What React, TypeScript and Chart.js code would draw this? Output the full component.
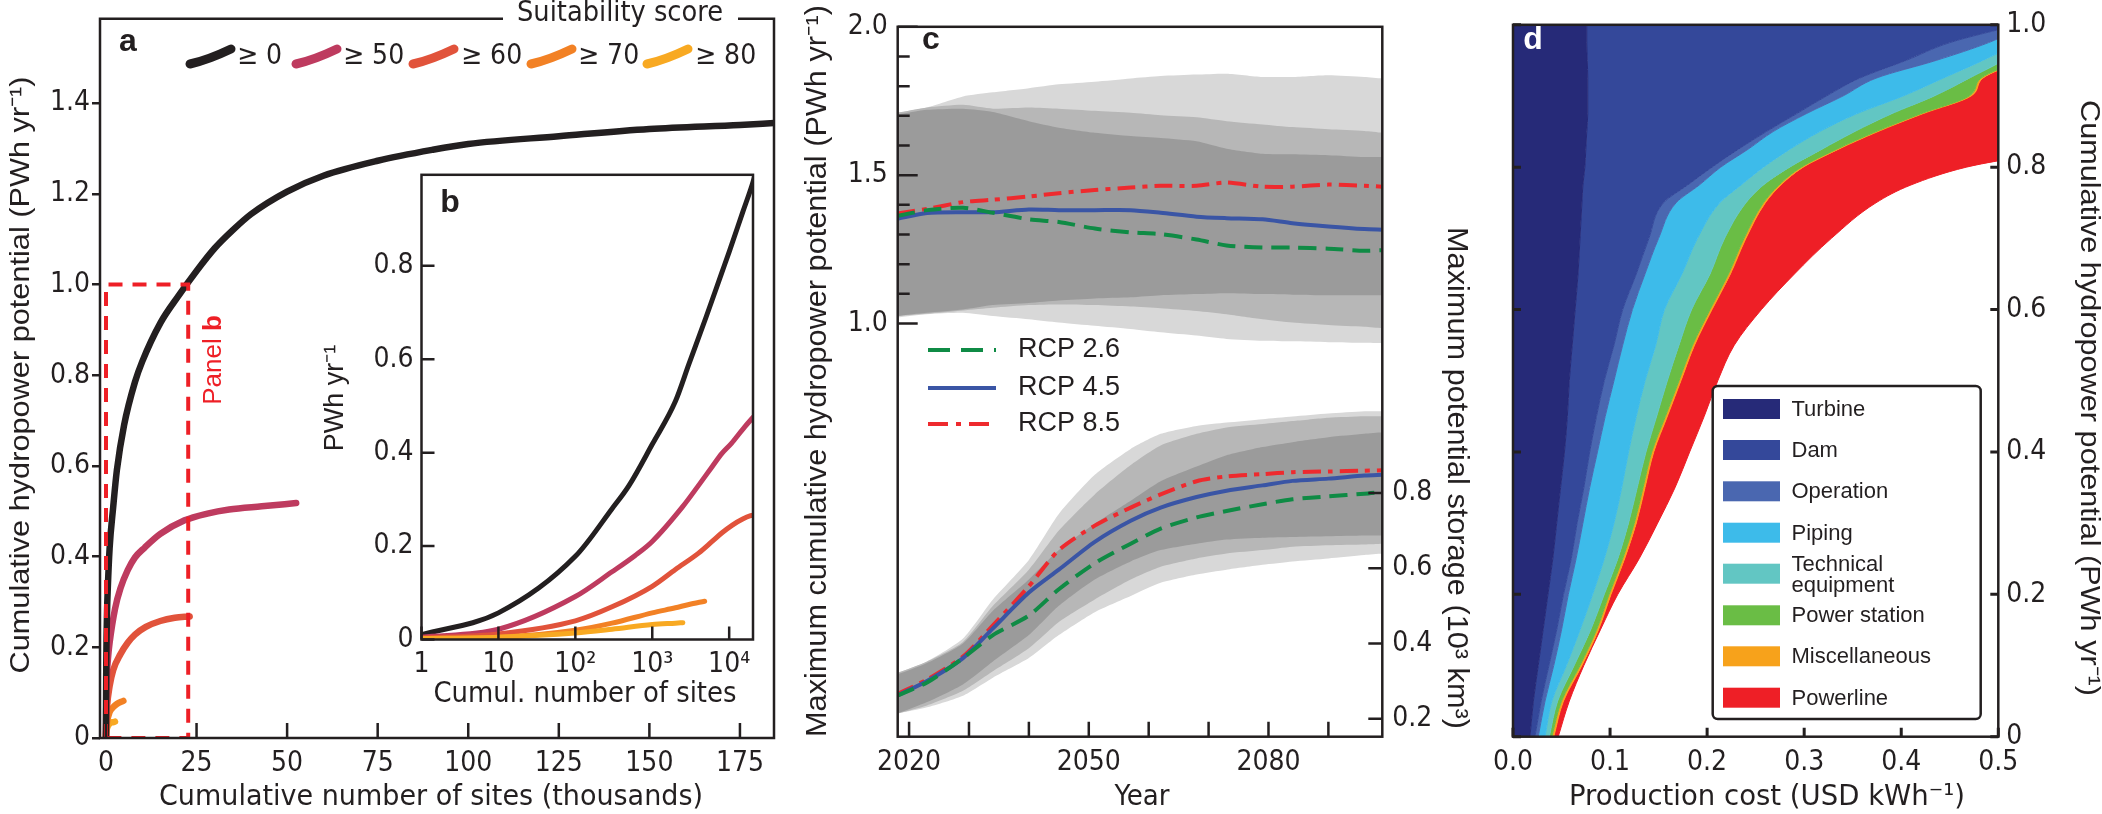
import React, { useEffect, useRef } from 'react';
import { Chart, registerables } from 'chart.js';
Chart.register(...registerables);

const INK = '#231f20';
const COND = "'Liberation Sans Narrow','DejaVu Sans Condensed','Roboto Condensed','Arial Narrow','Liberation Sans',sans-serif";
const REG = "'Liberation Sans',Arial,Helvetica,sans-serif";

// ---------------- Panel a / b data (sites in thousands, potential PWh/yr) ----------------
const scoreLabels = ['≥ 0', '≥ 50', '≥ 60', '≥ 70', '≥ 80'];
const scoreColors = ['#231f20', '#be3b5f', '#e1533b', '#f28125', '#f8a922'];
const sites0 = [0, 0.001, 0.01, 0.1, 0.3, 0.5, 1, 2, 3, 5, 8, 10, 15, 20, 25, 30, 35, 40, 50, 60, 75, 90, 100, 125, 150, 175, 184.4];
const pot0 = [0, 0.01, 0.057, 0.178, 0.28, 0.33, 0.418, 0.51, 0.59, 0.69, 0.785, 0.83, 0.915, 0.975, 1.03, 1.08, 1.12, 1.155, 1.205, 1.24, 1.273, 1.297, 1.31, 1.327, 1.343, 1.352, 1.356];
const sites50 = [0, 0.001, 0.01, 0.1, 0.3, 0.6, 1, 2.5, 4, 6, 8, 10.7, 15, 21.7, 28, 34, 43, 52.5];
const pot50 = [0, 0.005, 0.022, 0.092, 0.145, 0.18, 0.21, 0.285, 0.33, 0.37, 0.398, 0.42, 0.45, 0.48, 0.495, 0.504, 0.511, 0.518];
const sites60 = [0, 0.001, 0.01, 0.1, 0.3, 1, 2, 4, 6, 8, 11, 15, 19, 23.1];
const pot60 = [0, 0.003, 0.012, 0.04, 0.07, 0.114, 0.15, 0.185, 0.21, 0.228, 0.245, 0.258, 0.265, 0.268];
const sites70 = [0, 0.001, 0.01, 0.1, 0.3, 1, 2, 3, 4.8];
const pot70 = [0, 0.002, 0.005, 0.02, 0.035, 0.057, 0.068, 0.075, 0.082];
const sites80 = [0, 0.001, 0.01, 0.1, 0.3, 1, 2, 2.5];
const pot80 = [0, 0.002, 0.005, 0.014, 0.022, 0.032, 0.035, 0.036];
const panelBoxSites = [0, 0, 22.7, 22.7, 0];
const panelBoxPot = [0, 1, 1, 0, 0];
const aXTicks = [0, 25, 50, 75, 100, 125, 150, 175];
const aYTicks = [0, 0.2, 0.4, 0.6, 0.8, 1.0, 1.2, 1.4];
const bXTicks = [1, 10, 100, 1000, 10000];
const bXTickLabels = ['1', '10', '10²', '10³', '10⁴'];
const bYTicks = [0, 0.2, 0.4, 0.6, 0.8];

// ---------------- Panel c data ----------------
const yearsC = [2018, 2023, 2029, 2034, 2040, 2045, 2051, 2057, 2062, 2068, 2073, 2079, 2084, 2090, 2096, 2099];
const potLightHi = [1.710, 1.728, 1.765, 1.779, 1.793, 1.806, 1.815, 1.826, 1.834, 1.839, 1.842, 1.831, 1.831, 1.837, 1.831, 1.826];
const potMidHi = [1.710, 1.728, 1.737, 1.724, 1.728, 1.724, 1.717, 1.710, 1.702, 1.695, 1.682, 1.671, 1.662, 1.655, 1.649, 1.643];
const potDarkHi = [1.704, 1.720, 1.724, 1.713, 1.682, 1.660, 1.643, 1.632, 1.625, 1.614, 1.589, 1.572, 1.570, 1.567, 1.561, 1.561];
const potDarkLo = [1.025, 1.036, 1.047, 1.062, 1.069, 1.077, 1.084, 1.088, 1.095, 1.099, 1.102, 1.099, 1.097, 1.095, 1.095, 1.095];
const potMidLo = [1.025, 1.033, 1.044, 1.053, 1.062, 1.064, 1.062, 1.057, 1.051, 1.042, 1.031, 1.014, 1.003, 0.995, 0.989, 0.984];
const potLightLo = [1.020, 1.031, 1.036, 1.025, 1.014, 1.003, 0.992, 0.981, 0.970, 0.959, 0.948, 0.942, 0.940, 0.937, 0.935, 0.934];
const potRcp26 = [1.362, 1.382, 1.390, 1.373, 1.351, 1.342, 1.320, 1.307, 1.301, 1.283, 1.263, 1.256, 1.256, 1.252, 1.245, 1.247];
const potRcp45 = [1.353, 1.372, 1.375, 1.375, 1.384, 1.382, 1.382, 1.382, 1.373, 1.360, 1.355, 1.351, 1.338, 1.327, 1.318, 1.316];
const potRcp85 = [1.371, 1.386, 1.409, 1.417, 1.428, 1.439, 1.450, 1.458, 1.464, 1.464, 1.475, 1.461, 1.461, 1.468, 1.464, 1.461];
const stoLightHi = [0.321, 0.352, 0.413, 0.517, 0.622, 0.744, 0.848, 0.917, 0.957, 0.978, 0.987, 0.996, 1.003, 1.011, 1.017, 1.017];
const stoMidHi = [0.321, 0.352, 0.404, 0.500, 0.596, 0.700, 0.796, 0.874, 0.926, 0.957, 0.974, 0.983, 0.991, 1.000, 1.004, 1.004];
const stoDarkHi = [0.317, 0.348, 0.400, 0.487, 0.570, 0.648, 0.718, 0.779, 0.831, 0.870, 0.900, 0.922, 0.935, 0.948, 0.957, 0.961];
const stoDarkLo = [0.213, 0.244, 0.291, 0.352, 0.422, 0.500, 0.570, 0.618, 0.648, 0.665, 0.676, 0.681, 0.683, 0.685, 0.687, 0.687];
const stoMidLo = [0.213, 0.235, 0.274, 0.326, 0.387, 0.457, 0.517, 0.570, 0.604, 0.626, 0.639, 0.648, 0.657, 0.661, 0.663, 0.665];
const stoLightLo = [0.213, 0.230, 0.261, 0.309, 0.361, 0.422, 0.483, 0.526, 0.561, 0.583, 0.596, 0.609, 0.618, 0.626, 0.635, 0.639];
const stoRcp26 = [0.261, 0.296, 0.361, 0.422, 0.474, 0.544, 0.613, 0.665, 0.705, 0.735, 0.752, 0.770, 0.783, 0.791, 0.798, 0.803];
const stoRcp45 = [0.261, 0.300, 0.361, 0.440, 0.535, 0.596, 0.670, 0.726, 0.761, 0.789, 0.806, 0.820, 0.832, 0.838, 0.846, 0.848];
const stoRcp85 = [0.265, 0.304, 0.365, 0.448, 0.552, 0.648, 0.713, 0.761, 0.796, 0.831, 0.844, 0.850, 0.855, 0.857, 0.859, 0.860];
const rcpLabels = ['RCP 2.6', 'RCP 4.5', 'RCP 8.5'];
const rcpColors = ['#0f8b45', '#3a55a5', '#ee2a2e'];
const bandColors = ['#d8d8d8', '#b7b7b7', '#9b9b9b'];
const cYearTicks = [2020, 2030, 2040, 2050, 2060, 2070, 2080, 2090];
const cYearLabels = [2020, 2050, 2080];
const cLeftTicks = [1.0, 1.1, 1.2, 1.3, 1.4, 1.5, 1.6, 1.7, 1.8, 1.9, 2.0];
const cLeftLabels = [1.0, 1.5, 2.0];
const cRightTicks = [0.2, 0.4, 0.6, 0.8];

// ---------------- Panel d data (right edge cost of each layer at each cumulative potential) ----------------
const potLevels = [0, 0.05, 0.1, 0.15, 0.2, 0.25, 0.3, 0.35, 0.4, 0.45, 0.5, 0.55, 0.6, 0.65, 0.7, 0.75, 0.775, 0.8, 0.825, 0.85, 0.875, 0.9, 0.925, 0.95, 0.975, 1.0];
const costTurbine = [0.0175, 0.021, 0.026, 0.031, 0.036, 0.041, 0.045, 0.049, 0.053, 0.056, 0.058, 0.061, 0.064, 0.067, 0.069, 0.071, 0.072, 0.074, 0.075, 0.076, 0.077, 0.077, 0.077, 0.0765, 0.076, 0.076];
const costDam = [0.0226, 0.029, 0.037, 0.045, 0.052, 0.060, 0.066, 0.073, 0.079, 0.086, 0.094, 0.104, 0.113, 0.127, 0.140, 0.155, 0.180, 0.205, 0.232, 0.261, 0.292, 0.323, 0.357, 0.405, 0.450, 0.520];
const costOperation = [0.026, 0.033, 0.042, 0.050, 0.057, 0.065, 0.072, 0.079, 0.087, 0.095, 0.104, 0.113, 0.123, 0.136, 0.150, 0.168, 0.192, 0.214, 0.242, 0.268, 0.302, 0.340, 0.374, 0.436, 0.490, 0.530];
const costPiping = [0.033, 0.040, 0.055, 0.069, 0.082, 0.094, 0.104, 0.112, 0.119, 0.127, 0.136, 0.147, 0.156, 0.174, 0.190, 0.213, 0.235, 0.258, 0.285, 0.316, 0.354, 0.402, 0.443, 0.484, 0.520, 0.540];
const costTechnical = [0.0374, 0.046, 0.063, 0.080, 0.094, 0.108, 0.119, 0.128, 0.137, 0.148, 0.159, 0.171, 0.184, 0.203, 0.218, 0.240, 0.258, 0.285, 0.318, 0.352, 0.390, 0.434, 0.470, 0.505, 0.530, 0.550];
const costPowerStation = [0.040, 0.050, 0.069, 0.086, 0.099, 0.113, 0.125, 0.134, 0.143, 0.157, 0.171, 0.185, 0.203, 0.222, 0.238, 0.258, 0.274, 0.297, 0.333, 0.374, 0.420, 0.470, 0.482, 0.520, 0.540, 0.560];
const costMisc = [0.042, 0.052, 0.071, 0.088, 0.101, 0.115, 0.127, 0.136, 0.145, 0.159, 0.173, 0.187, 0.205, 0.224, 0.240, 0.260, 0.276, 0.299, 0.335, 0.376, 0.422, 0.472, 0.484, 0.522, 0.542, 0.562];
const costPowerline = [0.0466, 0.058, 0.073, 0.090, 0.108, 0.130, 0.149, 0.167, 0.182, 0.197, 0.211, 0.228, 0.256, 0.290, 0.328, 0.374, 0.410, 0.467, 0.56, 0.6, 0.6, 0.6, 0.6, 0.6, 0.6, 0.6];
const costLabels = ['Turbine', 'Dam', 'Operation', 'Piping', 'Technical equipment', 'Power station', 'Miscellaneous', 'Powerline'];
const costColors = ['#262a78', '#34489a', '#4a67b0', '#3dbbea', '#62c6c3', '#6abd45', '#f7a21b', '#ee1f26'];
const costSeries = [costTurbine, costDam, costOperation, costPiping, costTechnical, costPowerStation, costMisc, costPowerline];
const dXTicks = [0, 0.1, 0.2, 0.3, 0.4, 0.5];
const dYTicks = [0, 0.2, 0.4, 0.6, 0.8, 1.0];

// ---------------- helpers ----------------
const pts = (xs: number[], ys: number[]) => xs.map((x, i) => ({ x, y: ys[i] }));

function text(ctx: CanvasRenderingContext2D, s: string, x: number, y: number, font: string, color = INK, align: CanvasTextAlign = 'center', rot = 0, fitLen = 0) {
  ctx.save();
  ctx.translate(x, y);
  if (rot) ctx.rotate(rot);
  ctx.font = font;
  if (fitLen > 0) {
    const w = ctx.measureText(s).width;
    if (w > 0) ctx.scale(fitLen / w, 1);
  }
  ctx.fillStyle = color;
  ctx.textAlign = align;
  ctx.textBaseline = 'middle';
  ctx.fillText(s, 0, 0);
  ctx.restore();
}

function tickMarks(ctx: CanvasRenderingContext2D, scale: any, area: any, vals: number[], len: number, side: 'bottom' | 'left' | 'right', lw = 2.5) {
  ctx.save();
  ctx.strokeStyle = INK;
  ctx.lineWidth = lw;
  ctx.beginPath();
  vals.forEach((v) => {
    const p = scale.getPixelForValue(v);
    if (side === 'bottom') { ctx.moveTo(p, area.bottom); ctx.lineTo(p, area.bottom - len); }
    if (side === 'left') { ctx.moveTo(area.left, p); ctx.lineTo(area.left + len, p); }
    if (side === 'right') { ctx.moveTo(area.right, p); ctx.lineTo(area.right - len, p); }
  });
  ctx.stroke();
  ctx.restore();
}

const fixTicks = (vals: number[]) => (s: any) => { s.ticks = vals.map((v) => ({ value: v })); };
const noGrid = { display: false, drawTicks: false };
const noBorder = { display: false };
const tickFont = { family: COND, size: 28 };

function useChart(ref: React.RefObject<HTMLCanvasElement>, make: () => any) {
  useEffect(() => {
    const chart = new Chart(ref.current as HTMLCanvasElement, make());
    return () => chart.destroy();
  }, []);
}

// ---------------- Panel a ----------------
function configA() {
  const series = [[sites0, pot0], [sites50, pot50], [sites60, pot60], [sites70, pot70], [sites80, pot80]];
  const datasets: any[] = [{
    data: pts(panelBoxSites, panelBoxPot), borderColor: '#ee1f26', borderWidth: 4, borderDash: [14, 10], pointRadius: 0, tension: 0, fill: false,
  }];
  series.forEach(([xs, ys], i) => datasets.push({
    data: pts(xs, ys), borderColor: scoreColors[i], borderWidth: 6.5, pointRadius: 0, cubicInterpolationMode: 'monotone', fill: false, borderCapStyle: 'round',
  }));
  const plugin = {
    id: 'decorA',
    afterDraw(chart: any) {
      const { ctx, chartArea: a, scales } = chart;
      ctx.save();
      ctx.strokeStyle = INK; ctx.lineWidth = 2.5;
      ctx.beginPath();
      ctx.moveTo(503, a.top); ctx.lineTo(a.left, a.top); ctx.lineTo(a.left, a.bottom); ctx.lineTo(a.right, a.bottom); ctx.lineTo(a.right, a.top); ctx.lineTo(738, a.top);
      ctx.stroke();
      ctx.restore();
      tickMarks(ctx, scales.x, a, aXTicks, 15, 'bottom');
      text(ctx, 'Suitability score', 620, 14, `28px ${COND}`, INK, 'center', 0, 206);
      text(ctx, 'a', 128, 42, `bold 32px ${REG}`);
      const sx = [190, 296, 413, 531, 647];
      const tx = [237, 343, 461, 578, 695];
      scoreLabels.forEach((lab, i) => {
        ctx.save();
        ctx.strokeStyle = scoreColors[i]; ctx.lineWidth = 9; ctx.lineCap = 'round';
        ctx.beginPath();
        ctx.moveTo(sx[i], 64);
        ctx.quadraticCurveTo(sx[i] + 18, 60, sx[i] + 41, 49);
        ctx.stroke();
        ctx.restore();
        text(ctx, lab, tx[i], 57, `28px ${COND}`, INK, 'left');
      });
      ctx.save();
      ctx.translate(214, 360); ctx.rotate(-Math.PI / 2);
      ctx.font = `26px ${REG}`;
      const w1 = ctx.measureText('Panel ').width;
      ctx.font = `bold 26px ${REG}`;
      const w2 = ctx.measureText('b').width;
      ctx.fillStyle = '#ee1f26'; ctx.textBaseline = 'middle'; ctx.textAlign = 'left';
      ctx.font = `26px ${REG}`; ctx.fillText('Panel ', -(w1 + w2) / 2, 0);
      ctx.font = `bold 26px ${REG}`; ctx.fillText('b', -(w1 + w2) / 2 + w1, 0);
      ctx.restore();
      text(ctx, 'Cumulative hydropower potential (PWh yr⁻¹)', 21, 375, `28px ${REG}`, INK, 'center', -Math.PI / 2, 597);
      text(ctx, 'Cumulative number of sites (thousands)', 431, 797, `29px ${COND}`, INK, 'center', 0, 544);
    },
  };
  return {
    type: 'line',
    data: { datasets },
    plugins: [plugin],
    options: {
      animation: false, responsive: false, events: [],
      layout: { padding: { top: 14, right: 16, left: 0, bottom: 0 } },
      plugins: { legend: { display: false }, tooltip: { enabled: false } },
      scales: {
        x: {
          type: 'linear', min: -1.65, max: 184.4, afterBuildTicks: fixTicks(aXTicks),
          ticks: { font: tickFont, color: INK, padding: 9, maxRotation: 0, autoSkip: false },
          grid: noGrid, border: noBorder, afterFit: (s: any) => { s.height = 76; },
        },
        y: {
          type: 'linear', min: 0, max: 1.586, afterBuildTicks: fixTicks(aYTicks),
          ticks: { font: tickFont, color: INK, padding: 2, callback: (v: number) => (v === 0 ? '0' : v.toFixed(1)) },
          grid: { display: true, drawOnChartArea: false, drawTicks: true, tickLength: 8, color: INK, lineWidth: 2.5 },
          border: noBorder, afterFit: (s: any) => { s.width = 100; },
        },
      },
    },
  };
}

// ---------------- Panel b (inset) ----------------
function configB() {
  const series = [[sites0, pot0], [sites50, pot50], [sites60, pot60], [sites70, pot70], [sites80, pot80]];
  const datasets = series.map(([xs, ys], i) => {
    const keep = xs.map((x, j) => j).filter((j) => xs[j] > 0);
    return {
      data: keep.map((j) => ({ x: xs[j] * 1000, y: ys[j] })),
      borderColor: scoreColors[i], borderWidth: 5, pointRadius: 0, cubicInterpolationMode: 'monotone', fill: false, borderCapStyle: 'round',
    };
  }).reverse();
  const ox = 310, oy = 150;
  const plugin = {
    id: 'decorB',
    afterDraw(chart: any) {
      const { ctx, chartArea: a, scales } = chart;
      ctx.save();
      ctx.strokeStyle = INK; ctx.lineWidth = 2.5;
      ctx.strokeRect(a.left, a.top, a.right - a.left, a.bottom - a.top);
      ctx.restore();
      tickMarks(ctx, scales.x, a, bXTicks, 13, 'bottom');
      tickMarks(ctx, scales.y, a, bYTicks, 13, 'left');
      text(ctx, 'b', 450 - ox, 203 - oy, `bold 32px ${REG}`);
      text(ctx, 'PWh yr⁻¹', 336 - ox, 398 - oy, `27px ${REG}`, INK, 'center', -Math.PI / 2);
      text(ctx, 'Cumul. number of sites', 585 - ox, 694 - oy, `29px ${COND}`, INK, 'center', 0, 303);
    },
  };
  return {
    type: 'line',
    data: { datasets },
    plugins: [plugin],
    options: {
      animation: false, responsive: false, events: [],
      layout: { padding: { top: 22, right: 27, left: 0, bottom: 0 } },
      plugins: { legend: { display: false }, tooltip: { enabled: false } },
      scales: {
        x: {
          type: 'logarithmic', min: 1, max: 20400, afterBuildTicks: fixTicks(bXTicks),
          ticks: { font: tickFont, color: INK, padding: 8, maxRotation: 0, autoSkip: false, callback: (v: number, i: number) => bXTickLabels[i] },
          grid: noGrid, border: noBorder, afterFit: (s: any) => { s.height = 70.5; },
        },
        y: {
          type: 'linear', min: 0, max: 0.995, afterBuildTicks: fixTicks(bYTicks),
          ticks: { font: tickFont, color: INK, padding: 8, callback: (v: number) => (v === 0 ? '0' : v.toFixed(1)) },
          grid: noGrid, border: noBorder, afterFit: (s: any) => { s.width = 111.5; },
        },
      },
    },
  };
}

// ---------------- Panel c ----------------
function configC() {
  const ds: any[] = [];
  const line = (ys: number[], axis: string, i: number) => ({
    data: pts(yearsC, ys), yAxisID: axis, borderColor: rcpColors[i], borderWidth: 4, pointRadius: 0, tension: 0.25, fill: false, order: 0,
    borderDash: i === 0 ? [18, 9] : i === 2 ? [18, 7, 5, 7] : [],
  });
  ds.push(line(potRcp26, 'yL', 0), line(potRcp45, 'yL', 1), line(potRcp85, 'yL', 2));
  ds.push(line(stoRcp26, 'yR', 0), line(stoRcp45, 'yR', 1), line(stoRcp85, 'yR', 2));
  const bands: [number[], number[], string, number][] = [
    [potDarkHi, potDarkLo, 'yL', 2], [potMidHi, potMidLo, 'yL', 1], [potLightHi, potLightLo, 'yL', 0],
    [stoDarkHi, stoDarkLo, 'yR', 2], [stoMidHi, stoMidLo, 'yR', 1], [stoLightHi, stoLightLo, 'yR', 0],
  ];
  bands.forEach(([hi, lo, axis, k]) => {
    const idx = ds.length;
    ds.push({ data: pts(yearsC, hi), yAxisID: axis, borderWidth: 0, pointRadius: 0, tension: 0.2, backgroundColor: bandColors[k], fill: idx + 1, order: 10 - k * 3 });
    ds.push({ data: pts(yearsC, lo), yAxisID: axis, borderWidth: 0, pointRadius: 0, tension: 0.2, fill: false, order: 10 - k * 3 });
  });
  const ox = 790;
  const plugin = {
    id: 'decorC',
    afterDraw(chart: any) {
      const { ctx, chartArea: a, scales } = chart;
      ctx.save();
      ctx.strokeStyle = INK; ctx.lineWidth = 2.5;
      ctx.strokeRect(a.left, a.top, a.right - a.left, a.bottom - a.top);
      ctx.restore();
      tickMarks(ctx, scales.x, a, cYearTicks, 15, 'bottom');
      tickMarks(ctx, scales.yL, a, cLeftTicks.filter((v) => !cLeftLabels.includes(v)), 12, 'left');
      tickMarks(ctx, scales.yL, a, cLeftLabels, 20, 'left');
      tickMarks(ctx, scales.yR, a, cRightTicks, 14, 'right');
      text(ctx, 'c', 931 - ox, 40, `bold 32px ${REG}`);
      const ly = [350, 388, 424];
      rcpLabels.forEach((lab, i) => {
        ctx.save();
        ctx.strokeStyle = rcpColors[i]; ctx.lineWidth = 4;
        ctx.setLineDash(i === 0 ? [22, 11] : i === 2 ? [20, 8, 5, 8] : []);
        ctx.beginPath(); ctx.moveTo(928 - ox, ly[i]); ctx.lineTo(996 - ox, ly[i]); ctx.stroke();
        ctx.restore();
        text(ctx, lab, 1018 - ox, ly[i], `27px ${REG}`, INK, 'left');
      });
      text(ctx, 'Maximum cumulative hydropower potential (PWh yr⁻¹)', 818 - ox, 371, `29px ${REG}`, INK, 'center', -Math.PI / 2, 732);
      text(ctx, 'Maximum potential storage (10³ km³)', 1456 - ox, 478, `29px ${REG}`, INK, 'center', Math.PI / 2, 502);
      text(ctx, 'Year', 1142 - ox, 797, `29px ${COND}`);
    },
  };
  return {
    type: 'line',
    data: { datasets: ds },
    plugins: [plugin],
    options: {
      animation: false, responsive: false, events: [],
      layout: { padding: { top: 13.3, right: 0, left: 0, bottom: 0 } },
      plugins: { legend: { display: false }, tooltip: { enabled: false } },
      scales: {
        x: {
          type: 'linear', min: 2018.1, max: 2099, afterBuildTicks: fixTicks(cYearTicks),
          ticks: { font: tickFont, color: INK, padding: 9, maxRotation: 0, autoSkip: false, callback: (v: number) => (cYearLabels.includes(v) ? String(v) : '') },
          grid: noGrid, border: noBorder, afterFit: (s: any) => { s.height = 77.3; },
        },
        yL: {
          type: 'linear', position: 'left', min: -0.393, max: 2.0, afterBuildTicks: fixTicks(cLeftTicks),
          ticks: { font: tickFont, color: INK, padding: 10, autoSkip: false, callback: (v: number) => (cLeftLabels.some((l) => Math.abs(l - v) < 1e-6) ? v.toFixed(1) : '') },
          grid: noGrid, border: noBorder, afterFit: (s: any) => { s.width = 107.7; },
        },
        yR: {
          type: 'linear', position: 'right', min: 0.152, max: 2.039, afterBuildTicks: fixTicks(cRightTicks),
          ticks: { font: tickFont, color: INK, padding: 10, autoSkip: false, callback: (v: number) => v.toFixed(1) },
          grid: noGrid, border: noBorder, afterFit: (s: any) => { s.width = 97.7; },
        },
      },
    },
  };
}

// ---------------- Panel d ----------------
function configD() {
  const datasets = costSeries.map((cost, i) => ({
    data: pts(cost, potLevels), borderColor: costColors[i], backgroundColor: costColors[i], borderWidth: 1, pointRadius: 0,
    cubicInterpolationMode: 'monotone', fill: i === 0 ? 'origin' : i - 1,
  }));
  const ox = 1480;
  const plugin = {
    id: 'decorD',
    afterDraw(chart: any) {
      const { ctx, chartArea: a, scales } = chart;
      ctx.save();
      ctx.strokeStyle = INK; ctx.lineWidth = 2.5;
      ctx.strokeRect(a.left, a.top, a.right - a.left, a.bottom - a.top);
      ctx.restore();
      tickMarks(ctx, scales.x, a, dXTicks, 9, 'bottom', 3);
      tickMarks(ctx, scales.y, a, dYTicks, 8, 'left', 3);
      tickMarks(ctx, scales.y, a, dYTicks, 8, 'right', 3);
      text(ctx, 'd', 1533 - ox, 40, `bold 32px ${REG}`, '#ffffff');
      const bx = 1712.7 - ox, by = 386, bw = 268, bh = 333, r = 5;
      ctx.save();
      ctx.fillStyle = '#ffffff'; ctx.strokeStyle = INK; ctx.lineWidth = 2.5;
      ctx.beginPath();
      ctx.moveTo(bx + r, by); ctx.lineTo(bx + bw - r, by); ctx.arcTo(bx + bw, by, bx + bw, by + r, r);
      ctx.lineTo(bx + bw, by + bh - r); ctx.arcTo(bx + bw, by + bh, bx + bw - r, by + bh, r);
      ctx.lineTo(bx + r, by + bh); ctx.arcTo(bx, by + bh, bx, by + bh - r, r);
      ctx.lineTo(bx, by + r); ctx.arcTo(bx, by, bx + r, by, r);
      ctx.closePath(); ctx.fill(); ctx.stroke();
      ctx.restore();
      const rows = [409, 450, 491.3, 532.7, 573.7, 615.3, 656.3, 697.7];
      costLabels.forEach((lab, i) => {
        ctx.fillStyle = costColors[i];
        ctx.fillRect(1723 - ox, rows[i] - 10, 57, 20);
        if (lab === 'Technical equipment') {
          text(ctx, 'Technical', 1791.5 - ox, rows[i] - 9, `22px ${REG}`, INK, 'left');
          text(ctx, 'equipment', 1791.5 - ox, rows[i] + 12, `22px ${REG}`, INK, 'left');
        } else {
          text(ctx, lab, 1791.5 - ox, rows[i] + 1, `22px ${REG}`, INK, 'left');
        }
      });
      text(ctx, 'Cumulative hydropower potential (PWh yr⁻¹)', 2089 - ox, 398, `28px ${REG}`, INK, 'center', Math.PI / 2, 596);
      text(ctx, 'Production cost (USD kWh⁻¹)', 1767 - ox, 797, `29px ${COND}`, INK, 'center', 0, 396);
    },
  };
  return {
    type: 'line',
    data: { datasets },
    plugins: [plugin],
    options: {
      animation: false, responsive: false, events: [], indexAxis: 'y',
      layout: { padding: { top: 13, right: 0, left: 33, bottom: 0 } },
      plugins: { legend: { display: false }, tooltip: { enabled: false }, filler: { propagate: false } },
      scales: {
        x: {
          type: 'linear', min: 0, max: 0.5, afterBuildTicks: fixTicks(dXTicks),
          ticks: { font: tickFont, color: INK, padding: 9, maxRotation: 0, autoSkip: false, callback: (v: number) => v.toFixed(1) },
          grid: noGrid, border: noBorder, afterFit: (s: any) => { s.height = 77.3; },
        },
        y: {
          type: 'linear', position: 'right', min: 0, max: 1, afterBuildTicks: fixTicks(dYTicks),
          ticks: { font: tickFont, color: INK, padding: 8, autoSkip: false, callback: (v: number) => (v === 0 ? '0' : v.toFixed(1)) },
          grid: noGrid, border: noBorder, afterFit: (s: any) => { s.width = 103.7; },
        },
      },
    },
  };
}

export default function App() {
  const ra = useRef<HTMLCanvasElement>(null);
  const rb = useRef<HTMLCanvasElement>(null);
  const rc = useRef<HTMLCanvasElement>(null);
  const rd = useRef<HTMLCanvasElement>(null);
  useChart(ra, configA);
  useChart(rb, configB);
  useChart(rc, configC);
  useChart(rd, configD);
  const abs = (l: number, t: number, w: number, h: number) => ({ position: 'absolute' as const, left: l, top: t, width: w, height: h });
  return (
    <div style={{ position: 'absolute', left: 0, top: 0, width: 2102, height: 814, background: '#ffffff', overflow: 'hidden' }}>
      <canvas ref={ra} width={790} height={814} style={abs(0, 0, 790, 814)} />
      <canvas ref={rb} width={470} height={560} style={abs(310, 150, 470, 560)} />
      <canvas ref={rc} width={690} height={814} style={abs(790, 0, 690, 814)} />
      <canvas ref={rd} width={622} height={814} style={abs(1480, 0, 622, 814)} />
    </div>
  );
}
